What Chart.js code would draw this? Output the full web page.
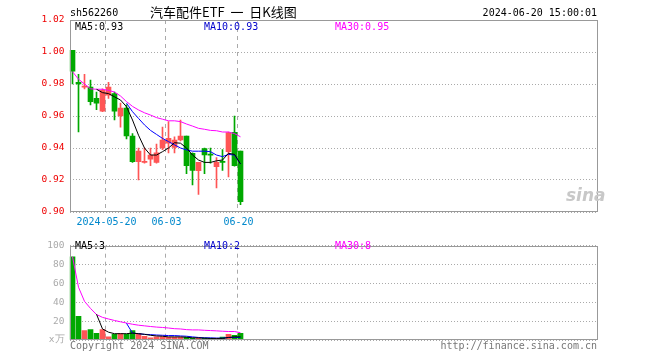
<!DOCTYPE html>
<html>
<head>
<meta charset="utf-8">
<script src="https://cdn.jsdelivr.net/npm/chart.js@4.4.1/dist/chart.umd.min.js"></script>
<style>
    body { margin: 0; width: 660px; height: 360px; background: #fff; position: relative; overflow: hidden; }
    canvas { position: absolute; left: 0; }
    .t { position: absolute; font: 10px "DejaVu Sans Mono", monospace; white-space: pre; line-height: 12px; }
</style>
</head>
<body>
<canvas id="kChart" width="660" height="235" style="top:0"></canvas>
<canvas id="volChart" width="660" height="125" style="top:235px"></canvas>

<div class="t" style="left:70px;top:7px">sh562260</div>
<div class="t" style="left:150px;top:4px;font:13px 'Noto Sans CJK SC';line-height:15px">汽车配件ETF  一  日K线图</div>
<div class="t" style="right:63px;top:7px">2024-06-20 15:00:01</div>
<div class="t" style="left:75px;top:21px">MA5:0.93</div>
<div class="t" style="left:204px;top:21px;color:#0000cc">MA10:0.93</div>
<div class="t" style="left:335px;top:21px;color:#ff00ff">MA30:0.95</div>
<div class="t" style="left:566px;top:186px;font:italic bold 17px 'DejaVu Sans';color:#c8c8c8;line-height:18px">sina</div>
<div class="t" style="left:75px;top:240px">MA5:3</div>
<div class="t" style="left:204px;top:240px;color:#0000cc">MA10:2</div>
<div class="t" style="left:335px;top:240px;color:#ff00ff">MA30:8</div>
<div class="t" style="left:70px;top:340px;color:#777">Copyright 2024 SINA.COM</div>
<div class="t" style="right:63px;top:340px;color:#777">http://finance.sina.com.cn</div>

<script>
// trading days shown (rest of the axis is empty)
const dates = [
    "2024-05-10", "2024-05-13", "2024-05-14", "2024-05-15", "2024-05-16", "2024-05-17",
    "2024-05-20", "2024-05-21", "2024-05-22", "2024-05-23", "2024-05-24", "2024-05-27",
    "2024-05-28", "2024-05-29", "2024-05-30", "2024-05-31", "2024-06-03", "2024-06-04",
    "2024-06-05", "2024-06-06", "2024-06-07", "2024-06-11", "2024-06-12", "2024-06-13",
    "2024-06-14", "2024-06-17", "2024-06-18", "2024-06-19", "2024-06-20",
];
const tickDates = ["2024-05-20", "2024-06-03", "2024-06-20"];
const tickText = ["2024-05-20", "06-03", "06-20"];
const SLOTS = 88;

const open = [1.001, 0.981, 0.978, 0.978, 0.971, 0.963, 0.973, 0.974, 0.960, 0.965, 0.9475, 0.9315, 0.931, 0.933, 0.931,
    0.940, 0.943, 0.9404, 0.945, 0.9475, 0.9367, 0.9258, 0.9396, 0.9356, 0.9283, 0.9311, 0.9377, 0.9498, 0.938];
const close = [0.988, 0.980, 0.978, 0.969, 0.968, 0.976, 0.978, 0.963, 0.965, 0.9475, 0.9315, 0.938, 0.931, 0.9356, 0.937,
    0.945, 0.946, 0.945, 0.9475, 0.929, 0.926, 0.931, 0.9356, 0.9355, 0.931, 0.931, 0.9496, 0.929, 0.9065];
const high = [1.001, 0.986, 0.986, 0.9825, 0.975, 0.977, 0.981, 0.975, 0.968, 0.967, 0.949, 0.940, 0.940, 0.940, 0.9425,
    0.953, 0.9565, 0.947, 0.9575, 0.9475, 0.937, 0.931, 0.940, 0.940, 0.934, 0.939, 0.950, 0.960, 0.938];
const low = [0.980, 0.950, 0.977, 0.967, 0.964, 0.9627, 0.971, 0.9575, 0.953, 0.9456, 0.931, 0.920, 0.9305, 0.929, 0.9305,
    0.939, 0.937, 0.937, 0.9445, 0.924, 0.917, 0.911, 0.924, 0.9305, 0.915, 0.926, 0.922, 0.9287, 0.9046];

// price moving averages
const ma5 = [null, null, null, null, 0.9767, 0.9746, 0.974, 0.972, 0.970, 0.9658, 0.9575, 0.948, 0.940, 0.9356, 0.9356,
    0.9377, 0.940, 0.9433, 0.943, 0.940, 0.9356, 0.9325, 0.931, 0.931, 0.932, 0.9325, 0.9367, 0.936, 0.930];
const ma10 = [null, null, null, null, null, null, null, null, null, 0.968, 0.9627, 0.9585, 0.9544, 0.951, 0.9485,
    0.946, 0.944, 0.942, 0.940, 0.9388, 0.938, 0.938, 0.938, 0.9377, 0.9356, 0.9346, 0.936, 0.9356, 0.930];
const ma30 = [0.9877, 0.983, 0.980, 0.977, 0.9767, 0.9767, 0.976, 0.975, 0.9725, 0.969, 0.966, 0.9638, 0.962, 0.9606, 0.959,
    0.958, 0.957, 0.957, 0.9565, 0.955, 0.9537, 0.9523, 0.9517, 0.951, 0.9508, 0.950, 0.950, 0.949, 0.947];

// volume (x万) and its moving averages
const volume = [88.3, 25, 10, 11, 7, 11, 3.3, 6, 6.7, 6, 10, 6.7, 4, 2.3, 3.3,
    3.3, 2.7, 2.7, 2.7, 2.7, 2, 2, 2, 1.7, 1.7, 3, 6, 5, 7];
const vma5 = [null, null, null, null, 27.3, 11.7, 8.3, 6.7, 6.7, 6.7, 7.3, 6.7, 6, 5, 4.3,
    4, 3.3, 3.3, 3.3, 3, 2.3, 2.3, 2, 1.7, 1.7, 1.7, 2.7, 3.3, 3.3];
const vma10 = [null, null, null, null, null, null, null, null, null, 17.7, 7.3, 6.7, 6, 5.7, 5.3,
    5, 4.7, 4.7, 4.3, 4, 3.3, 2.7, 2.3, 2.3, 2, 2, 2.7, 2.7, 2.7];
const vma30 = [88.3, 56, 41, 33.5, 27, 24, 22.3, 20.7, 19.3, 18, 16.7, 15.7, 15, 14.3, 13.7,
    13.3, 12.7, 12, 11.7, 11, 10.7, 10.7, 10.3, 10, 9.7, 9.3, 9, 9, 7.7];

const RED = "#ff5555";
const GREEN = "#00a800";
const colors = open.map((o, i) => (close[i] >= o ? RED : GREEN));
const labels = dates.concat(Array(SLOTS - dates.length).fill(""));
const tickIdx = tickDates.map((d) => dates.indexOf(d));
const mono = { family: "DejaVu Sans Mono", size: 10 };

// grey box round the plot area
const frame = {
    id: "frame",
    afterDraw(chart) {
        const { ctx, chartArea: a } = chart;
        const l = Math.round(a.left) + 0.5, r = Math.round(a.right) - 0.5;
        const t = Math.round(a.top) + 0.5, b = Math.round(a.bottom) - 0.5;
        ctx.save();
        ctx.strokeStyle = "#999";
        ctx.lineWidth = 1;
        ctx.strokeRect(l, t, r - l, b - t);
        ctx.restore();
    },
};

function lineSet(label, data, color) {
    return { type: "line", label, data, borderColor: color, borderWidth: 1, pointRadius: 0, tension: 0, order: 0 };
}

function xScale(showTicks, height) {
    return {
        type: "category",
        offset: true,
        grid: {
            offset: true,
            drawTicks: false,
            color: (c) => (tickIdx.includes(c.index) ? "#aaa" : "transparent"),
        },
        border: { display: false, dash: [4, 4] },
        ticks: {
            display: showTicks,
            autoSkip: false,
            maxRotation: 0,
            padding: 4,
            labelOffset: -2,
            color: "#0088cc",
            font: mono,
            callback: (v, i) => {
                const k = tickIdx.indexOf(i);
                return k >= 0 ? tickText[k] : "";
            },
        },
        afterFit: (s) => { s.height = height; },
    };
}

new Chart(document.getElementById("kChart"), {
    data: {
        labels,
        datasets: [
            lineSet("MA5", ma5, "#000000"),
            lineSet("MA10", ma10, "#0000ff"),
            lineSet("MA30", ma30, "#ff00ff"),
            {
                type: "bar",
                label: "body",
                data: open.map((o, i) => [o, close[i]]),
                backgroundColor: colors,
                barThickness: 5,
                minBarLength: 1,
                grouped: false,
                order: 1,
            },
            {
                type: "bar",
                label: "wick",
                data: low.map((l, i) => [l, high[i]]),
                backgroundColor: colors,
                barThickness: 1,
                grouped: false,
                order: 2,
            },
        ],
    },
    options: {
        responsive: false,
        animation: false,
        events: [],
        layout: { padding: { left: 0, right: 62.5, top: 20, bottom: 0 } },
        plugins: { legend: { display: false }, tooltip: { enabled: false } },
        scales: {
            x: xScale(true, 23),
            y: {
                min: 0.9,
                max: 1.02,
                ticks: { stepSize: 0.02, color: "#ee0000", padding: 5, font: { family: "DejaVu Sans Mono", size: 9.5 }, callback: (v) => v.toFixed(2) },
                grid: { drawTicks: false, color: "#aaa" },
                border: { display: false, dash: [1, 2] },
                afterFit: (s) => { s.width = 69.5; },
            },
        },
    },
    plugins: [frame],
});

new Chart(document.getElementById("volChart"), {
    data: {
        labels,
        datasets: [
            lineSet("MA5", vma5, "#000000"),
            lineSet("MA10", vma10, "#0000ff"),
            lineSet("MA30", vma30, "#ff00ff"),
            {
                type: "bar",
                label: "volume",
                data: volume,
                backgroundColor: colors,
                barThickness: 5,
                grouped: false,
                order: 1,
            },
        ],
    },
    options: {
        responsive: false,
        animation: false,
        events: [],
        layout: { padding: { left: 0, right: 62.5, top: 5, bottom: 0 } },
        plugins: { legend: { display: false }, tooltip: { enabled: false } },
        scales: {
            x: xScale(false, 20),
            y: {
                min: 0,
                max: 100,
                ticks: { stepSize: 20, color: "#aaa", padding: 5, font: { family: "DejaVu Sans Mono", size: 9.5 }, callback: (v) => (v === 0 ? "x万" : v) },
                grid: { drawTicks: false, color: "#aaa" },
                border: { display: false, dash: [1, 2] },
                afterFit: (s) => { s.width = 69.5; },
            },
        },
    },
    plugins: [frame],
});
</script>
</body>
</html>
